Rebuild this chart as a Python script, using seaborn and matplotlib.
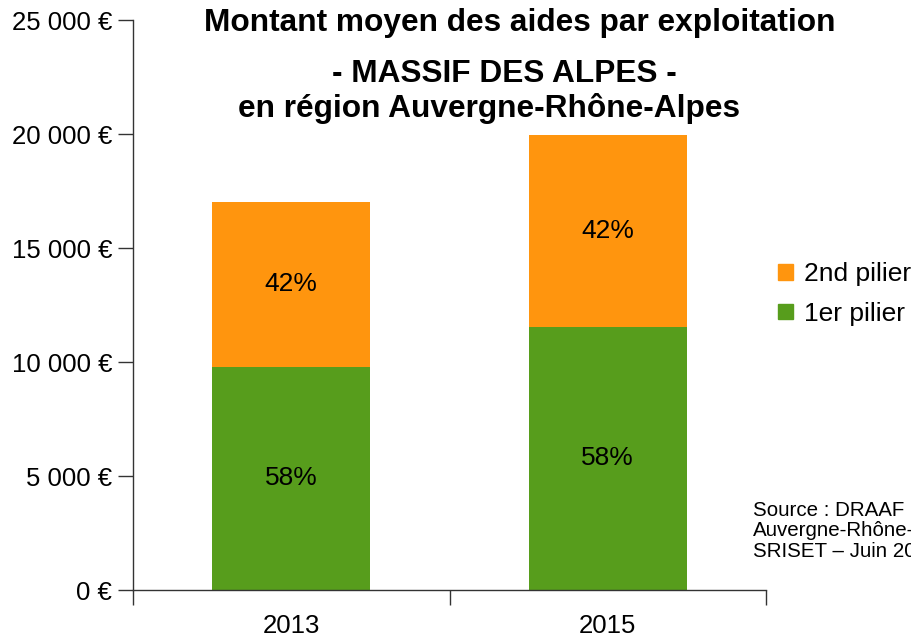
import numpy as np
import pandas as pd
import seaborn as sns
import matplotlib.pyplot as plt
from matplotlib.patches import Patch

years = ['2013', '2015']
pilier1 = [9800, 11550]
pilier2 = [7200, 8400]
pct1 = ['58%', '58%']
pct2 = ['42%', '42%']

orange = '#ff950e'
green = '#579d1c'

sns.set_theme(style='white')
plt.rcParams['font.family'] = ['Liberation Sans', 'DejaVu Sans']
plt.rcParams['text.color'] = 'black'
plt.rcParams['xtick.color'] = 'black'
plt.rcParams['ytick.color'] = 'black'

df = pd.DataFrame({'annee': years, 'p1': pilier1, 'p2': pilier2})
df['total'] = df['p1'] + df['p2']

fig = plt.figure(figsize=(9.12, 6.38), dpi=100)
ax = fig.add_axes([133 / 912, 48 / 638, 633 / 912, 570 / 638])

sns.barplot(data=df, x='annee', y='total', color=orange, width=0.5,
            saturation=1, ax=ax, linewidth=0)
sns.barplot(data=df, x='annee', y='p1', color=green, width=0.5,
            saturation=1, ax=ax, linewidth=0)

for i in range(len(years)):
    ax.text(i, pilier1[i] / 2, pct1[i], ha='center', va='center', fontsize=19, color='black')
    ax.text(i, pilier1[i] + pilier2[i] / 2, pct2[i], ha='center', va='center', fontsize=19, color='black')

ax.set_xlim(-0.5, 1.5)
ax.set_ylim(0, 25000)
ax.set_yticks(np.arange(0, 25001, 5000))
ax.set_yticklabels([f'{v:,}'.replace(',', ' ') + ' €' for v in range(0, 25001, 5000)], fontsize=18.5)
ax.set_xticks(range(len(years)))
ax.set_xticklabels(years, fontsize=18.5)
ax.set_xticks([-0.5, 0.5, 1.5], minor=True)
ax.tick_params(axis='x', which='major', length=0, pad=17)
ax.tick_params(axis='x', which='minor', length=11, width=1, color='#333333', direction='out', bottom=True)
ax.tick_params(axis='y', length=11, width=1, color='#333333', direction='out', left=True, pad=4)
ax.set_xlabel('')
ax.set_ylabel('')
sns.despine(ax=ax)
for s in ['left', 'bottom']:
    ax.spines[s].set_color('#333333')
    ax.spines[s].set_linewidth(1)

fig.text(520 / 912, 1 - 23 / 638, 'Montant moyen des aides par exploitation',
         ha='center', va='center', fontsize=22.8, fontweight='bold')
fig.text(504 / 912, 1 - 74 / 638, '- MASSIF DES ALPES -',
         ha='center', va='center', fontsize=22.8, fontweight='bold')
fig.text(489 / 912, 1 - 109 / 638, 'en région Auvergne-Rhône-Alpes',
         ha='center', va='center', fontsize=22.8, fontweight='bold')

handles = [Patch(color=orange, label='2nd pilier'), Patch(color=green, label='1er pilier')]
fig.legend(handles=handles, loc='upper left', bbox_to_anchor=(778 / 912, 1 - 262 / 638),
           frameon=False, fontsize=19, handlelength=0.55, handleheight=0.55,
           handletextpad=0.45, labelspacing=0.6, borderaxespad=0, borderpad=0)

fig.text(753 / 912, 1 - 531 / 638, 'Source : DRAAF\nAuvergne-Rhône-Alpes\nSRISET – Juin 2017',
         ha='left', va='center', fontsize=14.8, linespacing=1.1)

fig.savefig('out.png', dpi=100)
